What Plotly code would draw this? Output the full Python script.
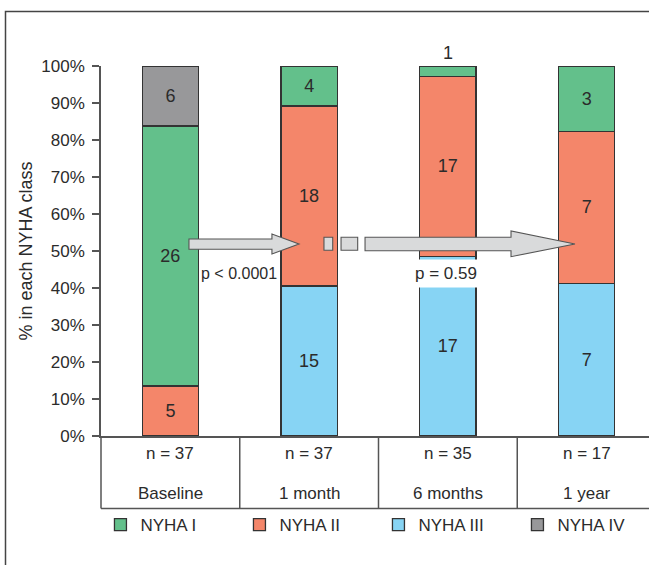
import plotly.graph_objects as go

# ---- data ----
categories = ["Baseline", "1 month", "6 months", "1 year"]
n_total = [37, 37, 35, 17]
nyha1 = [26, 4, 1, 3]
nyha2 = [5, 18, 17, 7]
nyha3 = [None, 15, 17, 7]
nyha4 = [6, None, None, None]
y_ticks = [0, 10, 20, 30, 40, 50, 60, 70, 80, 90, 100]
y_tick_labels = [f"{v}%" for v in y_ticks]
p_labels = ["p < 0.0001", "p = 0.59"]

# ---- style ----
W, H = 649, 565
ML, MR, MT, MB = 101, 0, 66, 129
PW, PH = W - ML - MR, H - MT - MB
XR = [-0.5, -0.5 + PW / 138.75]
FONT = "Liberation Sans, Arial, sans-serif"
TXT = "#2b2b2b"
AX = "#555555"

colors = {"NYHA I": "#63c08b", "NYHA II": "#f4866a",
          "NYHA III": "#87d4f4", "NYHA IV": "#98989a"}
xs = list(range(len(categories)))


def px2paper_x(px):
    return (px - ML) / PW


def px2paper_y(py):
    return (H - MB - py) / PH


def dx2paper(xd):
    return (xd - XR[0]) / (XR[1] - XR[0])


fig = go.Figure()
stack = [("NYHA III", nyha3, 3), ("NYHA II", nyha2, 2),
         ("NYHA I", nyha1, 1), ("NYHA IV", nyha4, 4)]
for name, vals, rank in stack:
    txt = [str(v) if v else "" for v in vals]
    if name == "NYHA I":
        pos = ["outside" if (v is not None and v <= 1) else "inside" for v in vals]
    else:
        pos = "inside"
    fig.add_trace(go.Bar(
        x=xs, y=vals, name=name, text=txt, texttemplate="%{text}",
        textposition=pos, insidetextanchor="middle", textangle=0,
        textfont=dict(size=18, color=TXT, family=FONT),
        constraintext="none", cliponaxis=False,
        marker=dict(color=colors[name], line=dict(color="#333333", width=1.3)),
        width=0.405, legendrank=rank, hoverinfo="skip",
    ))

shapes = []
# frame
shapes.append(dict(type="rect", xref="paper", yref="paper",
                   x0=px2paper_x(5.5), x1=px2paper_x(700),
                   y0=px2paper_y(620), y1=px2paper_y(11.5),
                   line=dict(color="#444444", width=1.5), layer="below"))
# table lines
ybot = px2paper_y(508.5)
shapes.append(dict(type="line", xref="paper", yref="paper",
                   x0=0, x1=0, y0=0, y1=ybot, line=dict(color=AX, width=1.5)))
for k in range(len(categories)):
    xb = dx2paper(k + 0.5)
    shapes.append(dict(type="line", xref="paper", yref="paper",
                       x0=xb, x1=xb, y0=0, y1=ybot, line=dict(color=AX, width=1.5)))
shapes.append(dict(type="line", xref="paper", yref="paper",
                   x0=0, x1=1.05, y0=ybot, y1=ybot, line=dict(color=AX, width=1.5)))


# arrows (decorations)
def poly(pts):
    return "M " + " L ".join(f"{x},{y}" for x, y in pts) + " Z"


arrow_style = dict(type="path", xref="x", yref="y", fillcolor="#d9dadb",
                   line=dict(color="#555555", width=1.1), layer="above")
a1 = [(0.134, 53.24), (0.732, 53.24), (0.732, 54.59), (0.927, 51.89),
      (0.732, 49.19), (0.732, 50.46), (0.134, 50.46)]
a2 = [(1.403, 53.70), (2.455, 53.70), (2.455, 55.41), (2.916, 51.89),
      (2.455, 48.46), (2.455, 50.08), (1.403, 50.08)]
r1 = [(1.107, 53.70), (1.170, 53.70), (1.170, 50.19), (1.107, 50.19)]
r2 = [(1.230, 53.70), (1.350, 53.70), (1.350, 50.19), (1.230, 50.19)]
for p in (a1, r1, r2, a2):
    shapes.append(dict(arrow_style, path=poly(p)))

annotations = []
for i, (c, n) in enumerate(zip(categories, n_total)):
    annotations.append(dict(x=i, y=px2paper_y(453), xref="x", yref="paper",
                            xanchor="center", yanchor="middle",
                            text=f"n = {n}", showarrow=False,
                            font=dict(size=17, color=TXT, family=FONT)))
    annotations.append(dict(x=i, y=px2paper_y(493), xref="x", yref="paper",
                            xanchor="center", yanchor="middle",
                            text=c, showarrow=False,
                            font=dict(size=17, color=TXT, family=FONT)))
annotations.append(dict(x=0.495, y=px2paper_y(273), xref="x", yref="paper",
                        xanchor="center", yanchor="middle",
                        text=p_labels[0], showarrow=False, bgcolor="white",
                        font=dict(size=16, color=TXT, family=FONT)))
annotations.append(dict(x=1.983, y=px2paper_y(273), xref="x", yref="paper",
                        xanchor="center", yanchor="middle",
                        text=p_labels[1], showarrow=False, bgcolor="white",
                        borderpad=4,
                        font=dict(size=17, color=TXT, family=FONT)))
annotations.append(dict(x=px2paper_x(25.5), y=0.5, xref="paper", yref="paper",
                        xanchor="center", yanchor="middle",
                        text="% in each NYHA class", textangle=-90, showarrow=False,
                        font=dict(size=18, color=TXT, family=FONT)))

fig.update_layout(
    width=W, height=H, barmode="stack", barnorm="percent",
    margin=dict(l=ML, r=MR, t=MT, b=MB, autoexpand=False),
    paper_bgcolor="white", plot_bgcolor="white",
    font=dict(family=FONT, size=16, color=TXT),
    showlegend=True,
    legend=dict(orientation="h", xref="paper", x=-0.001,
                xanchor="left", y=px2paper_y(525), yanchor="middle",
                traceorder="normal",
                entrywidth=94, entrywidthmode="pixels",
                font=dict(size=17, color=TXT, family=FONT),
                bgcolor="rgba(0,0,0,0)"),
    xaxis=dict(range=XR, showticklabels=False, ticks="", showgrid=False,
               zeroline=False, showline=True, linecolor=AX, linewidth=1.5,
               fixedrange=True),
    yaxis=dict(range=[0, 100], tickvals=y_ticks, ticktext=y_tick_labels,
               ticks="outside", ticklen=7, tickcolor=AX, tickwidth=1.5,
               ticklabelstandoff=4,
               showline=True, linecolor=AX, linewidth=1.5, showgrid=False,
               zeroline=False, fixedrange=True,
               tickfont=dict(size=17, color=TXT, family=FONT)),
    shapes=shapes, annotations=annotations,
)

fig.write_html("out.html", config={"displayModeBar": False},
               post_script="document.body.style.margin='0';document.body.style.overflow='hidden';")
